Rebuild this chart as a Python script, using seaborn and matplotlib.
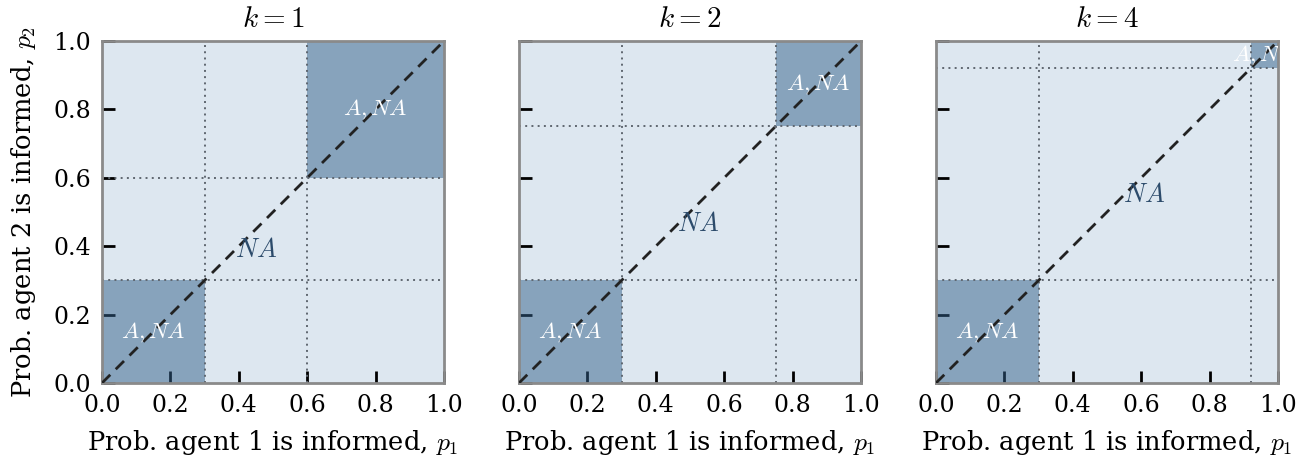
import numpy as np
import matplotlib
matplotlib.use("Agg")
import matplotlib.pyplot as plt
import seaborn as sns

# ---- data ----
k_values = [1, 2, 4]
low_thresholds = [0.3, 0.3, 0.3]
high_thresholds = [0.6, 0.75, 0.92]
tick_values = [0.0, 0.2, 0.4, 0.6, 0.8, 1.0]
tick_labels = ["0.0", "0.2", "0.4", "0.6", "0.8", "1.0"]
diag_x = [0.0, 1.0]
diag_y = [0.0, 1.0]
label_both = r"$A, NA$"
label_na = r"$NA$"
xlabel = r"Prob. agent 1 is informed, $p_1$"
ylabel = r"Prob. agent 2 is informed, $p_2$"

sns.set_style("ticks")
plt.rcParams["font.family"] = ["DejaVu Serif"]
plt.rcParams["mathtext.fontset"] = "cm"
plt.rcParams["text.color"] = "black"
plt.rcParams["axes.labelcolor"] = "black"
plt.rcParams["xtick.color"] = "black"
plt.rcParams["ytick.color"] = "black"

light = "#dde7f0"
dark_base = "#33608a"
na_color = "#2c4b6b"

fig = plt.figure(figsize=(13.12, 4.61), dpi=100)
lefts = [102 / 1312, 519 / 1312, 936 / 1312]
W = 342 / 1312
B = (461 - 383) / 461
H = 342 / 461

for i, (k, lo, hi) in enumerate(zip(k_values, low_thresholds, high_thresholds)):
    ax = fig.add_axes([lefts[i], B, W, H])
    ax.set_facecolor(light)
    ax.set_axisbelow(True)
    ax.set_xlim(0, 1)
    ax.set_ylim(0, 1)
    # dark regions
    ax.fill_between([0, lo], 0, lo, color=dark_base, alpha=0.5, lw=0, zorder=1)
    ax.fill_between([hi, 1], hi, 1, color=dark_base, alpha=0.5, lw=0, zorder=1)
    # threshold dotted lines
    for t in (lo, hi):
        ax.axvline(t, color="#5f6770", ls=(0, (1, 2.2)), lw=1.4, zorder=2)
        ax.axhline(t, color="#5f6770", ls=(0, (1, 2.2)), lw=1.4, zorder=2)
    # diagonal
    sns.lineplot(x=diag_x, y=diag_y, ax=ax, color="#222222", lw=2,
                 linestyle=(0, (4.2, 2.8)), zorder=3)
    # labels
    ax.text(lo / 2, lo / 2, label_both, color="white", fontsize=16.5,
            ha="center", va="center", zorder=4, clip_on=True)
    ax.text((hi + 1) / 2, (hi + 1) / 2, label_both, color="white", fontsize=16.5,
            ha="center", va="center", zorder=4, clip_on=True)
    mid = (lo + hi) / 2
    ax.text(mid, mid - 0.06, label_na, color=na_color, fontsize=19,
            ha="center", va="center", zorder=4)

    ax.set_xticks(tick_values)
    ax.set_xticklabels(tick_labels)
    ax.set_yticks(tick_values)
    if i == 0:
        ax.set_yticklabels(tick_labels)
        ax.set_ylabel(ylabel, fontsize=18.5, labelpad=11)
    else:
        ax.set_yticklabels([])
    ax.set_xlabel(xlabel, fontsize=18.5, labelpad=8)
    ax.tick_params(direction="in", length=9, width=2, colors="black",
                   labelsize=17, pad=8, top=False, right=False)
    for s in ax.spines.values():
        s.set_color("#8a8a8a")
        s.set_linewidth(2)
        s.set_visible(True)
    ax.set_title(r"$k = %d$" % k, fontsize=21, pad=10, color="black")

fig.savefig("out.png", dpi=100)
